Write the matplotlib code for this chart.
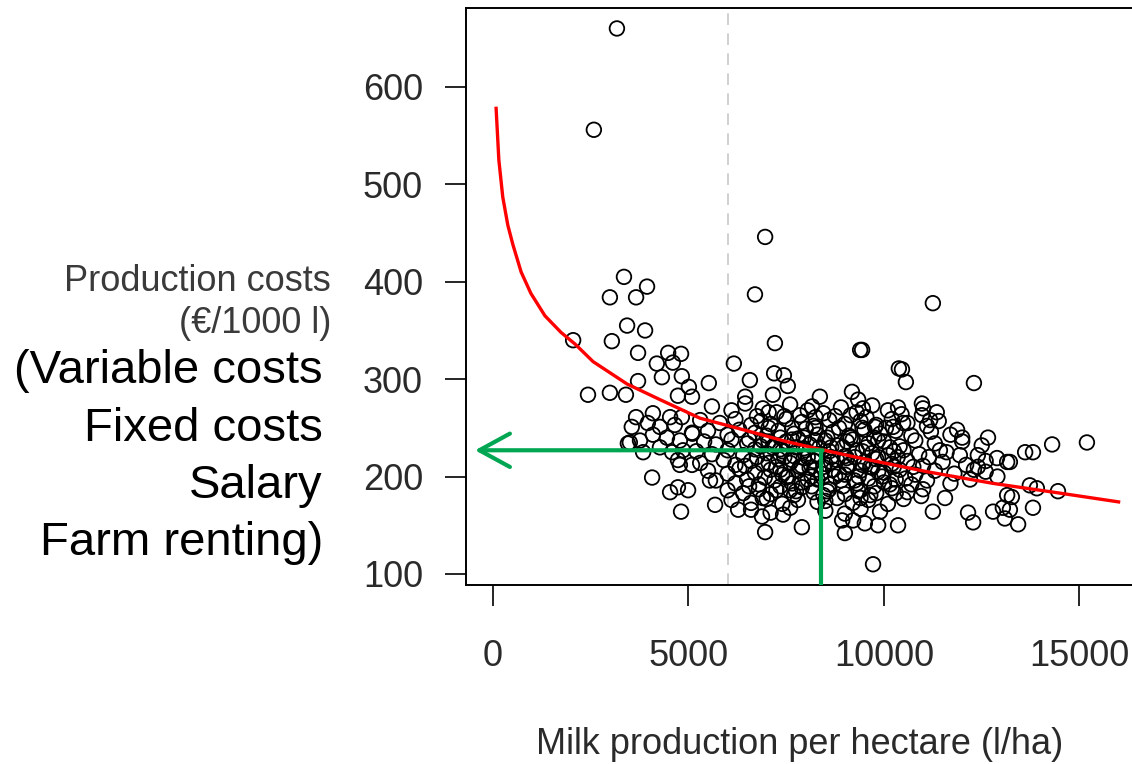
import matplotlib
matplotlib.use("Agg")
import matplotlib.pyplot as plt

plt.rcParams['font.family'] = ['Liberation Sans', 'DejaVu Sans']

# Farms: milk production per hectare (l/ha) and production costs (EUR/1000 l)
farm_x = [
    3170, 2580, 6960, 6700, 11250, 9390, 7210, 2050,
    3350, 2990, 3660, 3940, 3430, 3890, 3040, 3710,
    4480, 4810, 4190, 4600, 4320, 4830, 5010, 3710,
    2990, 2430, 3400, 4730, 5090,
    3660, 4090, 4530, 4830, 3550, 3960, 4270, 4650,
    3500, 3760, 4090, 4450, 4780, 5090, 3450, 3840,
    4270, 4580, 4860, 4730, 4780, 5090, 4070, 4530,
    4730, 4990, 4810,
    6160, 7190, 7440, 7540, 6570, 5520, 7160, 6450,
    8360, 8160, 9180, 9340,
    9440, 10380, 10460, 10560, 12300, 10360, 10970,
    10970, 11180, 9770, 10230, 10490, 9460,
    5550, 5680, 6270, 6880, 6960, 7420, 7900, 8930,
    9000, 9210,
    12660, 11430, 11940, 12890, 13150, 11560, 11250,
    12150, 12280, 12790, 13040, 13090, 9510, 9850,
    10360, 9720, 13150,
    15190, 14300, 13610, 13810, 13220, 13730, 13910,
    14450, 13810, 13430, 13270, 13220,
    12600, 12900, 12400, 12000, 12500, 11870,
    5600, 6100, 6450, 6900, 7250, 7600, 8050, 8450, 8900, 9300, 9700, 10100, 10450, 11000, 11350,
    5300, 5800, 6200, 6600, 6850, 7100, 7500, 7900, 8200, 8600, 9000, 9400, 9800, 10200, 10600, 11100, 11400,
    5100, 5500, 6000, 6300, 6700, 7000, 7300, 7700, 8000, 8300, 8700, 9100, 9500, 9900, 10300, 10700, 11200, 11700,
    5400, 5700, 6100, 6500, 6900, 7200, 7500, 7800, 8100, 8500, 8800, 9200, 9600, 10000, 10400, 10800, 11300, 12000,
    5200, 5600, 6000, 6400, 6700, 7000, 7400, 7700, 8000, 8300, 8600, 9000, 9300, 9700, 10100, 10500, 10900, 11600, 12400,
    5300, 5900, 6200, 6600, 6900, 7300, 7600, 7900, 8200, 8500, 8800, 9100, 9500, 9800, 10200, 10600, 11000, 11500, 12100, 12600,
    5500, 6000, 6300, 6700, 7100, 7400, 7800, 8100, 8400, 8700, 9000, 9400, 9700, 10000, 10400, 10800, 11300, 11800, 12300,
    5700, 6200, 6500, 6800, 7200, 7500, 7900, 8300, 8600, 8900, 9300, 9600, 10000, 10300, 10700, 11100, 11700, 12200,
    6000, 6400, 6800, 7100, 7600, 7900, 8200, 8600, 9000, 9400, 9800, 10200, 10600, 11000,
    6100, 6600, 7000, 7400, 7800, 8300, 8800, 9200, 9600, 10100, 10500,
    6600, 7100, 7600, 8500, 9000, 9400, 9900,
    7050, 7350, 7650, 7950, 8250, 8550, 8850, 9150, 9450, 9750, 10050,
    7150, 7450, 7750, 8050, 8350, 8650, 8950, 9250, 9550, 9850, 10150,
    7250, 7550, 7850, 8150, 8450, 8750, 9050, 9350, 9650, 9950, 10250,
    7350, 7750, 8150, 8550, 8950, 9350, 9750,
    6750, 7050, 7450, 7850, 8250, 8750, 9150, 9550,
    6550, 6850, 7050, 7350, 7650, 7950, 8250, 8650, 9050, 9450, 9850, 10250,
    6450, 6750, 7050, 7350, 7650, 7950, 8250, 8650, 9050, 9450, 9850, 10350, 10750, 11150,
    6550, 6950, 7250, 7650, 8050, 8450, 8850, 9250, 9650, 10150, 10550, 10950,
    6900, 7700, 8500, 9400, 10300,
]
farm_cost = [
    660, 556, 446, 387, 378, 330, 337, 340,
    405, 384, 384, 395, 355, 350, 339, 327,
    327, 326, 316, 317, 302, 303, 292, 298,
    286, 284, 284, 283, 282,
    261, 265, 261, 261, 251, 255, 251, 253,
    235, 237, 243, 240, 237, 245, 234, 225,
    230, 225, 227, 217, 212, 212, 199, 184,
    189, 186, 164,
    316, 306, 304, 293, 299, 296, 284, 282,
    282, 272, 287, 279,
    330, 311, 310, 297, 296, 271, 275,
    263, 258, 251, 251, 255, 270,
    196, 171, 166, 159, 143, 161, 148, 155,
    142, 155,
    240, 227, 222, 219, 215, 178, 164,
    163, 153, 164, 168, 157, 152, 150,
    150, 110, 181,
    235, 233, 225, 225, 215, 191, 188,
    185, 168, 151, 179, 166,
    205, 200, 210, 240, 232, 248,
    272, 268, 275, 270, 266, 274, 268, 265, 271, 266, 273, 268, 264, 270, 266,
    258, 255, 259, 253, 257, 254, 259, 256, 252, 258, 254, 257, 253, 259, 255, 252, 257,
    244, 247, 243, 248, 245, 242, 247, 244, 249, 243, 246, 242, 248, 244, 247, 242, 246, 243,
    236, 233, 238, 234, 237, 232, 236, 239, 233, 237, 232, 238, 234, 236, 231, 237, 234, 236,
    226, 223, 227, 222, 228, 224, 226, 221, 227, 223, 226, 221, 227, 224, 222, 227, 223, 225, 222,
    214, 217, 212, 216, 213, 218, 214, 211, 216, 213, 217, 212, 215, 218, 213, 216, 211, 215, 212, 216,
    206, 203, 208, 204, 207, 202, 206, 209, 203, 207, 202, 206, 209, 204, 207, 202, 206, 203, 207,
    196, 193, 197, 192, 196, 199, 194, 197, 192, 196, 193, 198, 194, 197, 192, 196, 193, 197,
    186, 183, 187, 182, 186, 189, 184, 187, 182, 186, 183, 188, 184, 187,
    176, 173, 177, 172, 176, 174, 178, 173, 176, 172, 177,
    166, 163, 168, 165, 162, 167, 164,
    250, 240, 250, 240, 250, 240, 250, 240, 250, 240, 250,
    230, 220, 230, 220, 230, 220, 230, 220, 230, 220, 230,
    210, 200, 210, 200, 210, 200, 210, 200, 210, 200, 210,
    190, 185, 190, 185, 190, 185, 190,
    262, 266, 262, 263, 261, 262, 263, 261,
    238, 231, 236, 228, 238, 229, 237, 230, 236, 226, 237, 226,
    211, 220, 214, 207, 217, 219, 207, 215, 219, 212, 205, 220, 210, 220,
    190, 199, 186, 193, 197, 181, 203, 196, 181, 192, 198, 180,
    178, 181, 175, 178, 183,
]

# Fitted cost curve
fit_x = [80, 150, 250, 380, 510, 720, 970, 1330, 1740, 2100, 2560, 3430,
         4270, 5290, 6500, 7500, 8360, 9390, 11100, 12790, 14500, 16000]
fit_y = [578, 525, 487, 458, 438, 410, 388, 365, 348, 336, 318, 295,
         279, 260, 247, 236, 228, 219, 205, 193, 183, 174]

# Reference farm
ref_x = 8400
ref_cost = 227
threshold_x = 6000

x_ticks = [0, 5000, 10000, 15000]
y_ticks = [100, 200, 300, 400, 500, 600]
cost_items = ["(Variable costs", "Fixed costs", "Salary", "Farm renting)"]

W, H = 1132, 764
fig = plt.figure(figsize=(W / 100, H / 100), dpi=100)
ax = fig.add_axes([466 / W, 1 - 585 / H, (W - 466) / W, (585 - 8) / H])
ax.set_xlim(-690, 16343)
ax.set_ylim(88.7, 681)

green = '#00a651'
ax.axvline(threshold_x, color='#c8c8c8', lw=1.2, dashes=(7, 5), zorder=1)
ax.scatter(farm_x, farm_cost, s=110, facecolors='none', edgecolors='black',
           linewidths=1.3, zorder=2)
ax.plot(fit_x, fit_y, color='red', lw=2.4, zorder=3)

ax.plot([ref_x, ref_x], [ref_cost, 88.7], color=green, lw=3, zorder=4,
        solid_capstyle='butt')
ax.annotate('', xy=(-460, ref_cost), xytext=(ref_x + 30, ref_cost),
            arrowprops=dict(arrowstyle='->,head_length=0.55,head_width=0.3',
                            color=green, lw=3, mutation_scale=40,
                            shrinkA=0, shrinkB=0),
            zorder=4)

for side in ['left', 'top', 'bottom']:
    ax.spines[side].set_linewidth(1.4)
ax.spines['right'].set_visible(False)

ax.set_xticks(x_ticks)
ax.set_yticks(y_ticks)
ax.tick_params(axis='both', direction='out', length=15, width=1.2,
               labelsize=26, labelcolor='#2a2a2a')
ax.tick_params(axis='x', pad=24)
ax.tick_params(axis='y', pad=16)

fig.text(800 / W, 1 - 745 / H, "Milk production per hectare (l/ha)",
         ha='center', va='center', fontsize=26, color='#2a2a2a')
fig.text(331 / W, 1 - 291 / H, "Production costs", ha='right',
         va='baseline', fontsize=26, color='#3a3a3a')
fig.text(331 / W, 1 - 333 / H, "(€/1000 l)", ha='right',
         va='baseline', fontsize=26, color='#3a3a3a')

for item, base in zip(cost_items, [383, 441, 498, 555]):
    fig.text(323 / W, 1 - base / H, item, ha='right', va='baseline',
             fontsize=34, color='black')

fig.savefig('out.png', dpi=100)
plt.close(fig)
